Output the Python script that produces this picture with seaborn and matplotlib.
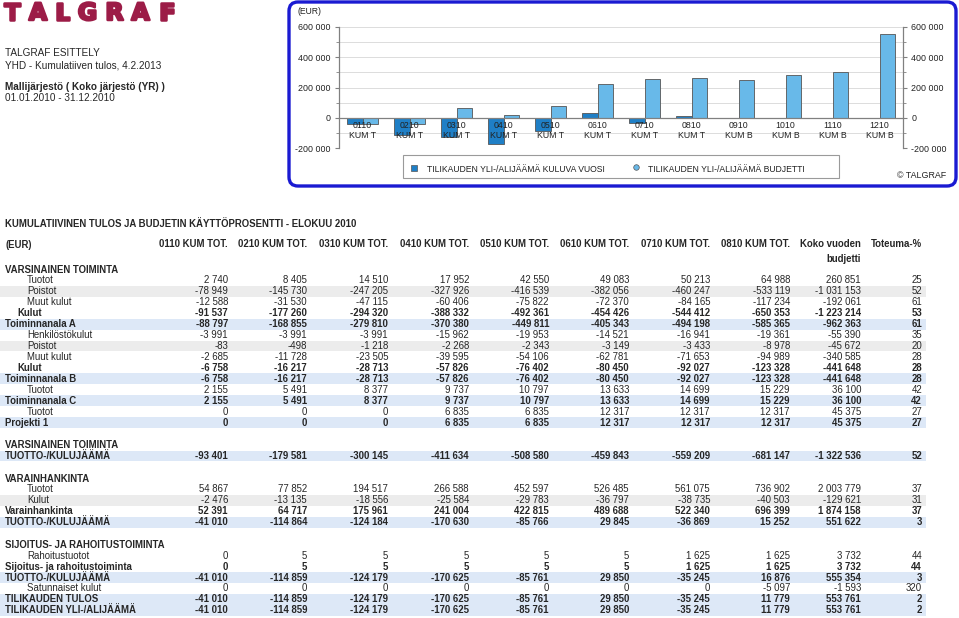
import numpy as np
import pandas as pd
import matplotlib
matplotlib.use("Agg")
import matplotlib.pyplot as plt
import seaborn as sns
from matplotlib.patches import FancyBboxPatch, Rectangle
from matplotlib.lines import Line2D
from matplotlib.transforms import IdentityTransform
import matplotlib.patheffects as pe
from matplotlib.ticker import FuncFormatter, MultipleLocator

# ---------------- chart data ----------------
kaudet = ["0110\nKUM T", "0210\nKUM T", "0310\nKUM T", "0410\nKUM T", "0510\nKUM T",
          "0610\nKUM T", "0710\nKUM T", "0810\nKUM T", "0910\nKUM B", "1010\nKUM B",
          "1110\nKUM B", "1210\nKUM B"]
kuluva_vuosi = [-41010, -114859, -124179, -170625, -85761, 29850, -35245, 11779,
                np.nan, np.nan, np.nan, np.nan]
budjetti = [-44000, -42000, 63000, 18000, 77000, 221000, 254000, 260000,
            249000, 280000, 300000, 553761]
sarja_kuluva = "TILIKAUDEN YLI-/ALIJÄÄMÄ KULUVA VUOSI"
sarja_budjetti = "TILIKAUDEN YLI-/ALIJÄÄMÄ BUDJETTI"
y_ticks = [-200000, 0, 200000, 400000, 600000]

# ---------------- table data ----------------
sarakkeet = ["0110 KUM TOT.", "0210 KUM TOT.", "0310 KUM TOT.", "0410 KUM TOT.",
             "0510 KUM TOT.", "0610 KUM TOT.", "0710 KUM TOT.", "0810 KUM TOT.",
             "Koko vuoden\nbudjetti", "Toteuma-%"]
rivit = ["VARSINAINEN TOIMINTA", "Tuotot", "Poistot", "Muut kulut", "Kulut",
         "Toiminnanala A", "Henkilöstökulut", "Poistot", "Muut kulut", "Kulut",
         "Toiminnanala B", "Tuotot", "Toiminnanala C", "Tuotot", "Projekti 1", "",
         "VARSINAINEN TOIMINTA", "TUOTTO-/KULUJÄÄMÄ", "",
         "VARAINHANKINTA", "Tuotot", "Kulut", "Varainhankinta", "TUOTTO-/KULUJÄÄMÄ", "",
         "SIJOITUS- JA RAHOITUSTOIMINTA", "Rahoitustuotot", "Sijoitus- ja rahoitustoiminta",
         "TUOTTO-/KULUJÄÄMÄ", "Satunnaiset kulut", "TILIKAUDEN TULOS",
         "TILIKAUDEN YLI-/ALIJÄÄMÄ"]
# h=section header, s=sub row, g=sub row grey, k=Kulut subtotal, b=blue total, t=bold total, e=empty
rivityypit = ["h", "s", "g", "s", "k", "b", "s", "g", "s", "k", "b", "s", "b", "s", "b", "e",
              "h", "b", "e", "h", "s", "g", "t", "b", "e", "h", "s", "t", "b", "s", "b", "b"]

kum_0110 = [2740, -78949, -12588, -91537, -88797, -3991, -83, -2685, -6758, -6758, 2155, 2155, 0, 0,
            -93401, 54867, -2476, 52391, -41010, 0, 0, -41010, 0, -41010, -41010]
kum_0210 = [8405, -145730, -31530, -177260, -168855, -3991, -498, -11728, -16217, -16217, 5491, 5491, 0, 0,
            -179581, 77852, -13135, 64717, -114864, 5, 5, -114859, 0, -114859, -114859]
kum_0310 = [14510, -247205, -47115, -294320, -279810, -3991, -1218, -23505, -28713, -28713, 8377, 8377, 0, 0,
            -300145, 194517, -18556, 175961, -124184, 5, 5, -124179, 0, -124179, -124179]
kum_0410 = [17952, -327926, -60406, -388332, -370380, -15962, -2268, -39595, -57826, -57826, 9737, 9737,
            6835, 6835, -411634, 266588, -25584, 241004, -170630, 5, 5, -170625, 0, -170625, -170625]
kum_0510 = [42550, -416539, -75822, -492361, -449811, -19953, -2343, -54106, -76402, -76402, 10797, 10797,
            6835, 6835, -508580, 452597, -29783, 422815, -85766, 5, 5, -85761, 0, -85761, -85761]
kum_0610 = [49083, -382056, -72370, -454426, -405343, -14521, -3149, -62781, -80450, -80450, 13633, 13633,
            12317, 12317, -459843, 526485, -36797, 489688, 29845, 5, 5, 29850, 0, 29850, 29850]
kum_0710 = [50213, -460247, -84165, -544412, -494198, -16941, -3433, -71653, -92027, -92027, 14699, 14699,
            12317, 12317, -559209, 561075, -38735, 522340, -36869, 1625, 1625, -35245, 0, -35245, -35245]
kum_0810 = [64988, -533119, -117234, -650353, -585365, -19361, -8978, -94989, -123328, -123328, 15229, 15229,
            12317, 12317, -681147, 736902, -40503, 696399, 15252, 1625, 1625, 16876, -5097, 11779, 11779]
budjetti_koko = [260851, -1031153, -192061, -1223214, -962363, -55390, -45672, -340585, -441648, -441648,
                 36100, 36100, 45375, 45375, -1322536, 2003779, -129621, 1874158, 551622, 3732, 3732,
                 555354, -1593, 553761, 553761]
toteuma_pct = [25, 52, 61, 53, 61, 35, 20, 28, 28, 28, 42, 42, 27, 27, 52, 37, 31, 37, 3, 44, 44, 3,
               320, 2, 2]
sarake_arvot = [kum_0110, kum_0210, kum_0310, kum_0410, kum_0510, kum_0610, kum_0710, kum_0810,
                budjetti_koko, toteuma_pct]

# ---------------- figure ----------------
W, H = 959, 618
sns.set_style("white")
plt.rcParams["font.family"] = ["Liberation Sans", "DejaVu Sans"]
fig = plt.figure(figsize=(W / 100, H / 100), dpi=100)
fig.patch.set_facecolor("white")


def fx(x):
    return x / W


def fy(y):
    return 1 - y / H


def fmt(v):
    return f"{int(v):,}".replace(",", " ")


TXT = 6.9
# logo
for ch, cx in zip("TALGRAF", [12, 38, 62.5, 87.5, 114.5, 140.5, 167]):
    fig.text(fx(cx), fy(13), ch, ha="center", va="center", fontsize=17, fontweight="bold",
             family="DejaVu Sans", color="#9c1c47",
             path_effects=[pe.withStroke(linewidth=1.8, foreground="#9c1c47")])

fig.text(fx(5), fy(53), "TALGRAF ESITTELY", fontsize=7.2, va="center")
fig.text(fx(5), fy(65), "YHD - Kumulatiiven tulos, 4.2.2013", fontsize=7.2, va="center")
fig.text(fx(5), fy(87), "Mallijärjestö ( Koko järjestö (YR) )", fontsize=7.2, va="center",
         fontweight="bold")
fig.text(fx(5), fy(98), "01.01.2010 - 31.12.2010", fontsize=7.2, va="center")

# chart frame
frame = FancyBboxPatch((289, H - 186), 667, 184, boxstyle="round,pad=0,rounding_size=9",
                       transform=IdentityTransform(), fill=False, ec="#1a1ad2", lw=2.4)
fig.add_artist(frame)

# ---------------- bar chart ----------------
ax = fig.add_axes([fx(339), fy(148), fx(903) - fx(339), fy(27) - fy(148)])
df = pd.DataFrame({
    "kausi": kaudet * 2,
    "sarja": [sarja_kuluva] * len(kaudet) + [sarja_budjetti] * len(kaudet),
    "arvo": kuluva_vuosi + budjetti,
})
c_dark, c_light = "#1f7fc6", "#68b9e9"
sns.barplot(data=df, x="kausi", y="arvo", hue="sarja", order=kaudet,
            hue_order=[sarja_kuluva, sarja_budjetti], palette=[c_dark, c_light],
            width=0.64, edgecolor="#555555", linewidth=0.6, saturation=1,
            errorbar=None, legend=False, ax=ax)
ax.set_ylim(-200000, 600000)
ax.set_xlim(-0.5, len(kaudet) - 0.5)
ax.set_xlabel("")
ax.set_ylabel("")
for yv in range(-200000, 600001, 100000):
    ax.axhline(yv, color="#dcdcdc", lw=0.7, zorder=0.3)
ax.yaxis.set_minor_locator(MultipleLocator(100000))
ax.set_yticks(y_ticks)
ax.yaxis.set_major_formatter(FuncFormatter(lambda v, p: fmt(v)))
ax.tick_params(axis="y", which="major", left=True, right=True, labelleft=True, labelright=True,
               length=3, width=0.8, color="#808080", labelsize=6.4, pad=3, labelcolor="#222222")
ax.tick_params(axis="y", which="minor", left=True, right=True, length=2, width=0.6, color="#808080")
ax.spines["top"].set_visible(False)
for s in ["left", "right", "bottom"]:
    ax.spines[s].set_color("#808080")
    ax.spines[s].set_linewidth(0.9)
ax.spines["bottom"].set_position(("data", 0))
ax.spines["bottom"].set_zorder(3)
ax.set_xticks(np.arange(0.5, len(kaudet) - 1, 1), minor=True)
ax.tick_params(axis="x", which="major", length=0, labelsize=6.3, pad=2.5, labelcolor="#222222")
ax.tick_params(axis="x", which="minor", direction="inout", length=6, width=0.8, color="#808080")
for lab in ax.get_xticklabels():
    lab.set_linespacing(1.15)
ax.xaxis.set_zorder(5)
ax.set_facecolor("white")

fig.text(fx(298), fy(12), "(EUR)", fontsize=6.2, va="center", color="#222222")
fig.text(fx(946), fy(176), "© TALGRAF", fontsize=6.4, va="center", ha="right", color="#222222")

# legend
fig.add_artist(Rectangle((fx(403), fy(178)), fx(839) - fx(403), fy(155) - fy(178),
                         transform=fig.transFigure, fill=False, ec="#9a9a9a", lw=0.8))
fig.add_artist(Line2D([fx(414)], [fy(168)], marker="s", ms=4.5, mfc=c_dark, mec="#555555",
                      mew=0.5, transform=fig.transFigure))
fig.text(fx(427), fy(169), sarja_kuluva, fontsize=6.2, va="center", color="#222222")
fig.add_artist(Line2D([fx(636)], [fy(167)], marker="o", ms=4, mfc=c_light, mec="#555555",
                      mew=0.5, transform=fig.transFigure))
fig.text(fx(648), fy(169), sarja_budjetti, fontsize=6.2, va="center", color="#222222")

# ---------------- table ----------------
fig.text(fx(5), fy(224), "KUMULATIIVINEN TULOS JA BUDJETIN KÄYTTÖPROSENTTI - ELOKUU 2010",
         fontsize=TXT, fontweight="bold", va="center")
col_right = [228, 307, 388, 469, 549, 629, 710, 790, 861, 922]
fig.text(fx(5), fy(245), "(EUR)", fontsize=TXT, fontweight="bold", va="center")
for name, xr in zip(sarakkeet, col_right):
    for j, p in enumerate(name.split("\n")):
        fig.text(fx(xr), fy(244.5 + j * 15), p, fontsize=TXT, fontweight="bold", va="center", ha="right")

row_h, blank_h = 10.93, 11.6
y = 269.5
vi = 0
for label, kind in zip(rivit, rivityypit):
    if kind == "e":
        y += blank_h
        continue
    if kind in ("b", "g"):
        fig.add_artist(Rectangle((0, fy(y + row_h / 2)), fx(926), row_h / H, transform=fig.transFigure,
                                 fc="#dde8f7" if kind == "b" else "#ececec", ec="none", zorder=0))
    bold = kind in ("h", "k", "b", "t")
    xl = {"h": 5, "s": 27, "g": 27, "k": 17, "b": 5, "t": 5}[kind]
    fig.text(fx(xl), fy(y), label, fontsize=TXT, fontweight="bold" if bold else "normal", va="center")
    if kind != "h":
        for col, xr in zip(sarake_arvot, col_right):
            fig.text(fx(xr), fy(y), fmt(col[vi]), fontsize=TXT, va="center", ha="right",
                     fontweight="bold" if bold else "normal")
        vi += 1
    y += row_h

fig.savefig("out.png", dpi=100)
